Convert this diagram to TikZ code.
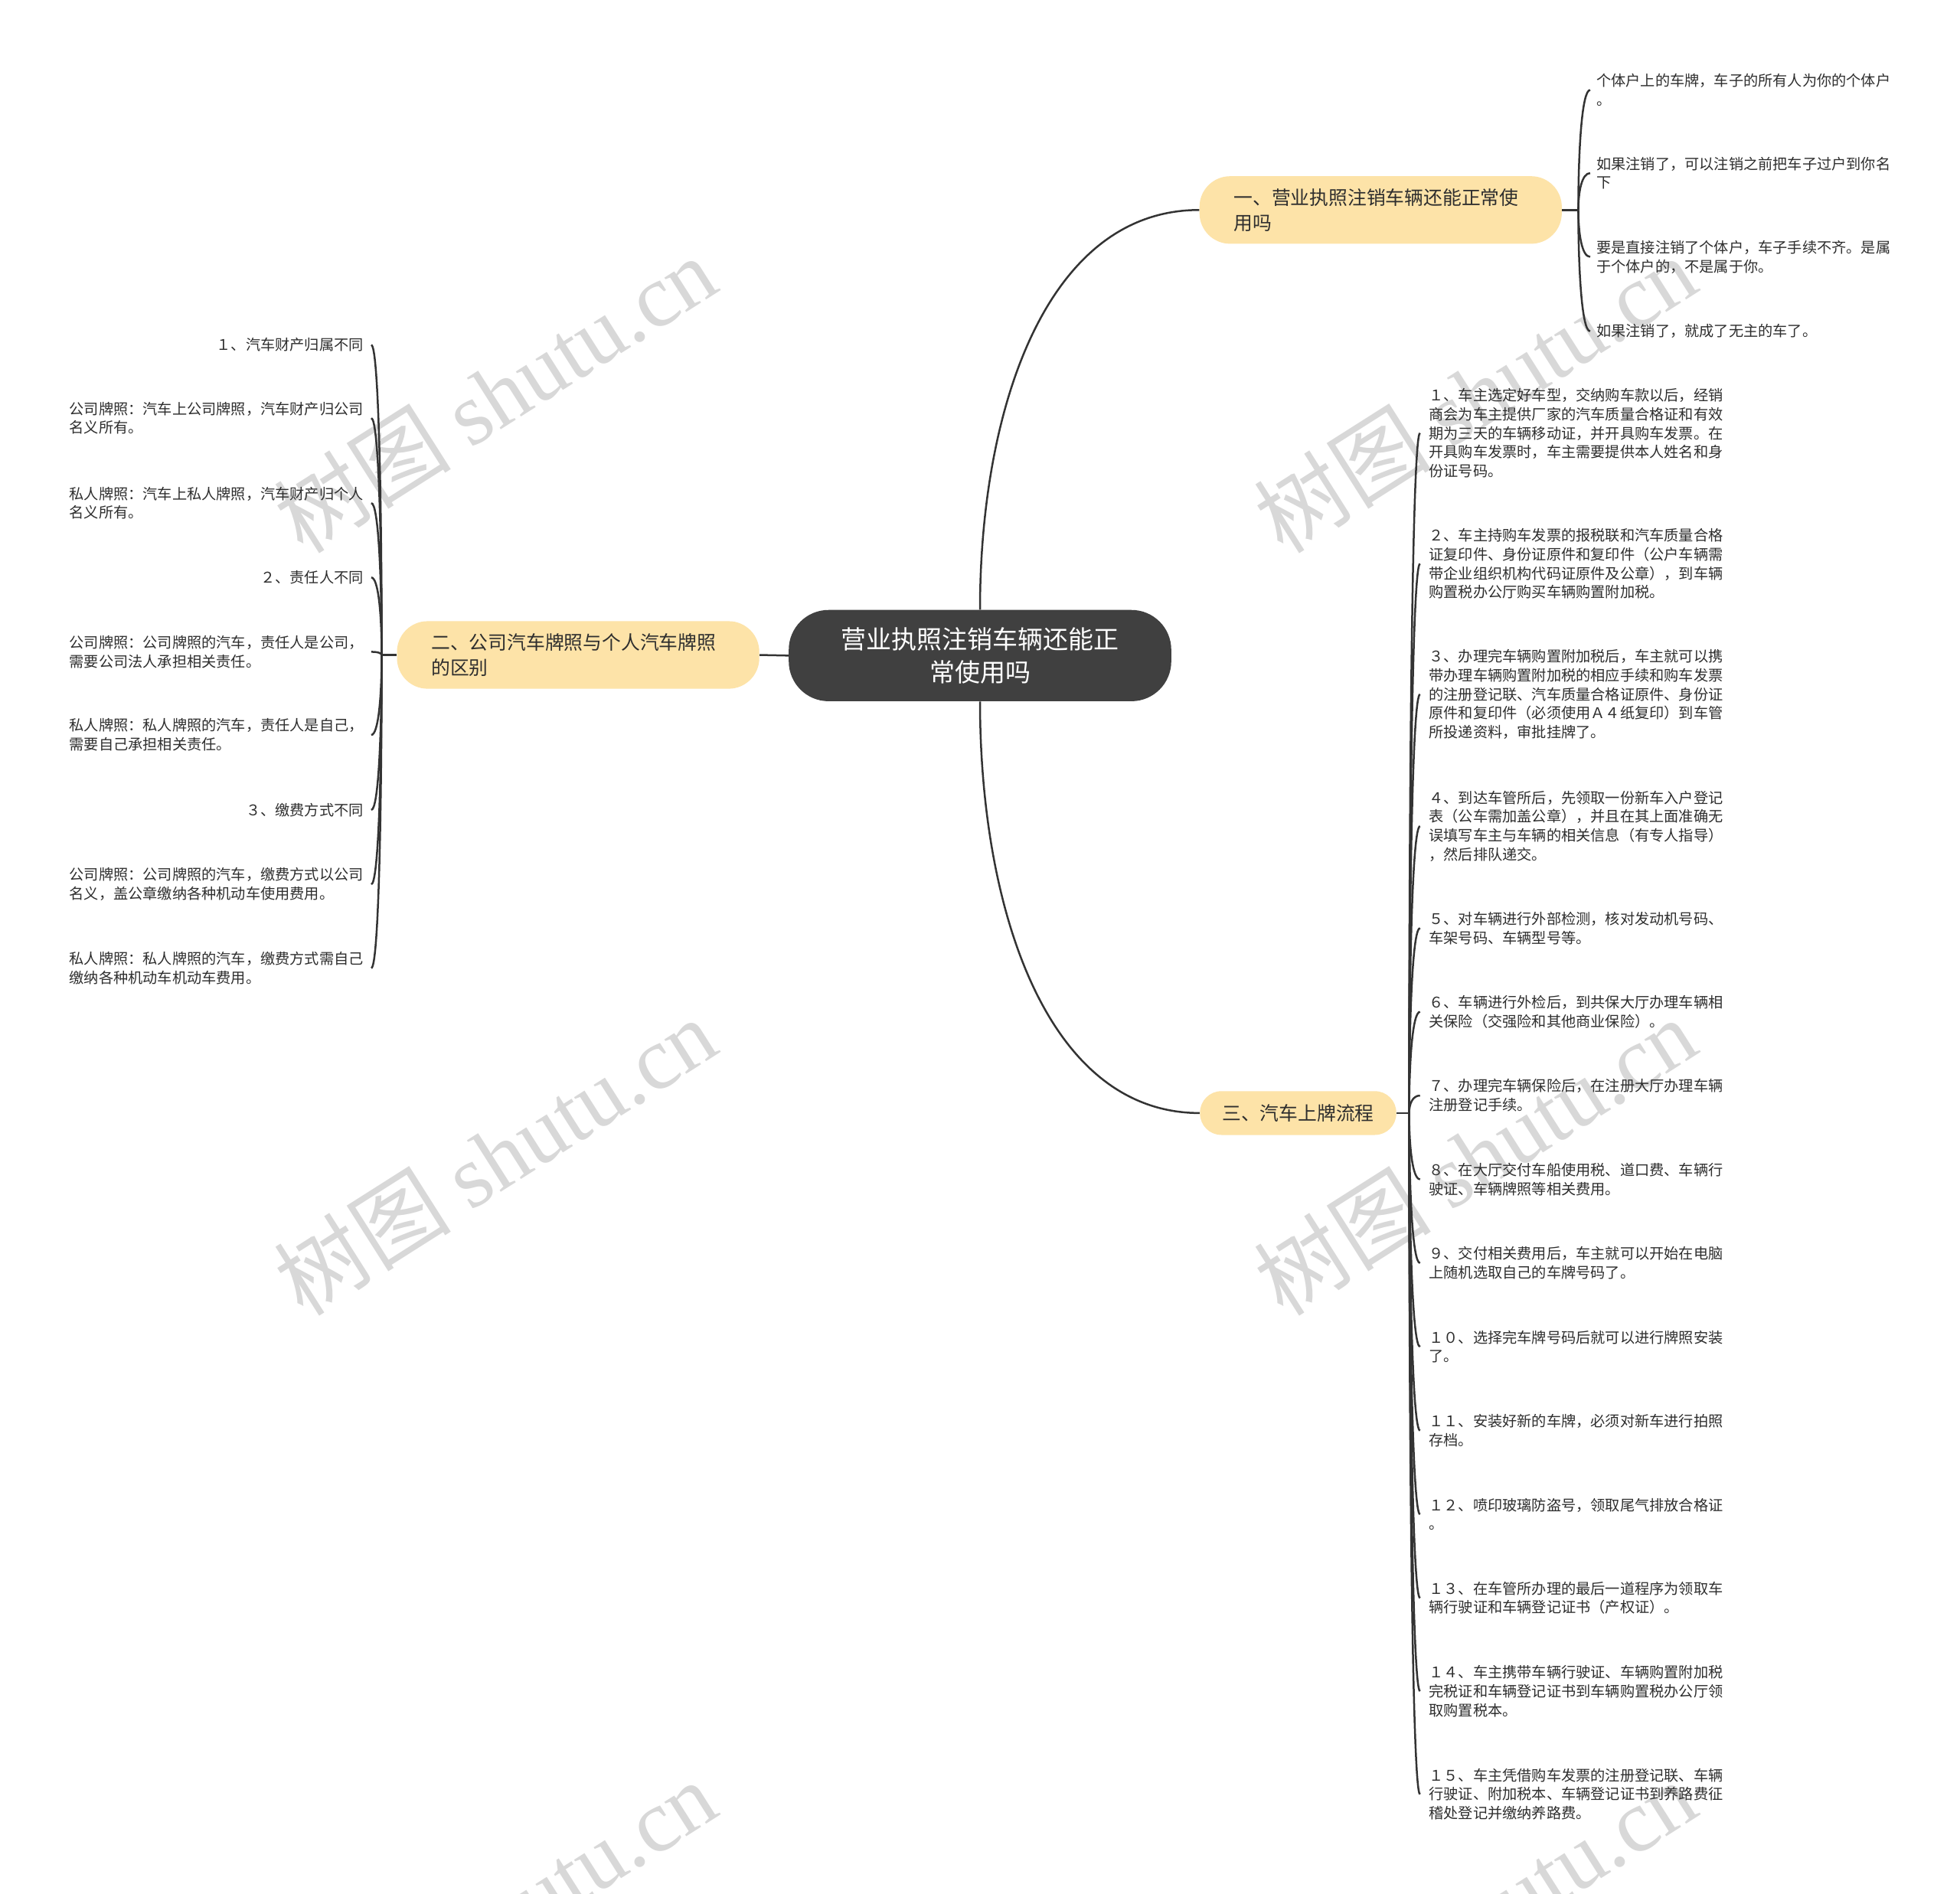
\documentclass[tikz,border=0pt]{standalone}
\usepackage{fontspec}
\setmainfont{Noto Sans CJK SC}
\newfontfamily\wmserif{Liberation Serif}
\newfontfamily\wmcjk{Noto Sans CJK SC}
\usetikzlibrary{calc}
\definecolor{rootgray}{HTML}{404040}
\definecolor{branchyellow}{HTML}{FDE3A8}
\definecolor{linegray}{HTML}{333333}
\definecolor{textdark}{HTML}{2E2E2E}
\definecolor{wmgray}{HTML}{D8D8D8}
\tikzset{
  rootbox/.style={fill=rootgray, rounded corners=26pt, text=white, minimum width=249.8pt, minimum height=59.6pt, align=center, inner sep=0pt, font=\fontsize{16.5pt}{21.2pt}\selectfont},
  branchwide/.style={fill=branchyellow, rounded corners=20pt, text=textdark, minimum width=235.9pt, minimum height=44.1pt, text width=191.8pt, align=left, inner xsep=22.4pt, inner ysep=0pt, font=\fontsize{12.4pt}{16.3pt}\selectfont},
  branchsmall/.style={fill=branchyellow, rounded corners=14pt, text=textdark, minimum width=128.2pt, minimum height=28.6pt, align=center, inner sep=0pt, font=\fontsize{12.4pt}{16.3pt}\selectfont},
  leafR/.style={anchor=west, align=left, inner sep=0pt, text=textdark, font=\fontsize{9.6pt}{12.4pt}\selectfont},
  leafL/.style={anchor=east, align=left, inner sep=0pt, text=textdark, font=\fontsize{9.6pt}{12.4pt}\selectfont},
  conn/.style={draw=linegray, line width=1.25pt},
  wmark/.style={text=wmgray, rotate=32.4, inner sep=0pt, font=\fontsize{58pt}{58pt}\selectfont}
}
\newcommand{\mmcurve}[2]{\draw[conn] let \p1=(#1), \p2=(#2) in (\p1) .. controls (\x1,{\y1+0.5*(\y2-\y1)}) and ({\x1+0.3*(\x2-\x1)},\y2) .. (\p2);}
\begin{document}
\begin{tikzpicture}[x=0.81633pt,y=-0.81633pt]
\useasboundingbox (0,0) rectangle (1568,1515);
\fill[white] (0,0) rectangle (1568,1515);
% watermarks
\node[wmark] (wm1) at (396,315) {\wmcjk 树图 \wmserif shutu.cn};
\node[wmark] (wm2) at (396,925) {\wmcjk 树图 \wmserif shutu.cn};
\node[wmark] (wm3) at (396,1535) {\wmcjk 树图 \wmserif shutu.cn};
\node[wmark] (wm4) at (1180,315) {\wmcjk 树图 \wmserif shutu.cn};
\node[wmark] (wm5) at (1180,925) {\wmcjk 树图 \wmserif shutu.cn};
\node[wmark] (wm6) at (1180,1535) {\wmcjk 树图 \wmserif shutu.cn};

% root and branches
\node[rootbox] (root) at (784,524.5) {营业执照注销车辆还能正\\常使用吗};
\node[branchwide] (b1) at (1104.5,168) {一、营业执照注销车辆还能正常使\\用吗};
\node[branchwide] (b2) at (462.5,524) {二、公司汽车牌照与个人汽车牌照\\的区别};
\node[branchsmall] (b3) at (1038.5,890.5) {三、汽车上牌流程};

% leaves of branch 1
\node[leafR] (r1) at (1277,72) {个体户上的车牌，车子的所有人为你的个体户\\。};
\node[leafR] (r2) at (1277,138.5) {如果注销了，可以注销之前把车子过户到你名\\下};
\node[leafR] (r3) at (1277,205.5) {要是直接注销了个体户，车子手续不齐。是属\\于个体户的，不是属于你。};
\node[leafR] (r4) at (1277,265) {如果注销了，就成了无主的车了。};

% leaves of branch 2
\node[leafL] (l1) at (291,276) {１、汽车财产归属不同};
\node[leafL] (l2) at (291,334.5) {公司牌照：汽车上公司牌照，汽车财产归公司\\名义所有。};
\node[leafL] (l3) at (291,402.5) {私人牌照：汽车上私人牌照，汽车财产归个人\\名义所有。};
\node[leafL] (l4) at (291,462) {２、责任人不同};
\node[leafL] (l5) at (291,521.5) {公司牌照：公司牌照的汽车，责任人是公司，\\需要公司法人承担相关责任。};
\node[leafL] (l6) at (291,588) {私人牌照：私人牌照的汽车，责任人是自己，\\需要自己承担相关责任。};
\node[leafL] (l7) at (291,648) {３、缴费方式不同};
\node[leafL] (l8) at (291,707.5) {公司牌照：公司牌照的汽车，缴费方式以公司\\名义，盖公章缴纳各种机动车使用费用。};
\node[leafL] (l9) at (291,774.5) {私人牌照：私人牌照的汽车，缴费方式需自己\\缴纳各种机动车机动车费用。};

% leaves of branch 3
\node[leafR] (s1) at (1143,346.5) {１、车主选定好车型，交纳购车款以后，经销\\商会为车主提供厂家的汽车质量合格证和有效\\期为三天的车辆移动证，并开具购车发票。在\\开具购车发票时，车主需要提供本人姓名和身\\份证号码。};
\node[leafR] (s2) at (1143,451) {２、车主持购车发票的报税联和汽车质量合格\\证复印件、身份证原件和复印件（公户车辆需\\带企业组织机构代码证原件及公章），到车辆\\购置税办公厅购买车辆购置附加税。};
\node[leafR] (s3) at (1143,555.5) {３、办理完车辆购置附加税后，车主就可以携\\带办理车辆购置附加税的相应手续和购车发票\\的注册登记联、汽车质量合格证原件、身份证\\原件和复印件（必须使用Ａ４纸复印）到车管\\所投递资料，审批挂牌了。};
\node[leafR] (s4) at (1143,661) {４、到达车管所后，先领取一份新车入户登记\\表（公车需加盖公章），并且在其上面准确无\\误填写车主与车辆的相关信息（有专人指导）\\，然后排队递交。};
\node[leafR] (s5) at (1143,742.5) {５、对车辆进行外部检测，核对发动机号码、\\车架号码、车辆型号等。};
\node[leafR] (s6) at (1143,809.5) {６、车辆进行外检后，到共保大厅办理车辆相\\关保险（交强险和其他商业保险）。};
\node[leafR] (s7) at (1143,876.5) {７、办理完车辆保险后，在注册大厅办理车辆\\注册登记手续。};
\node[leafR] (s8) at (1143,943.5) {８、在大厅交付车船使用税、道口费、车辆行\\驶证、车辆牌照等相关费用。};
\node[leafR] (s9) at (1143,1010.5) {９、交付相关费用后，车主就可以开始在电脑\\上随机选取自己的车牌号码了。};
\node[leafR] (s10) at (1143,1077.5) {１０、选择完车牌号码后就可以进行牌照安装\\了。};
\node[leafR] (s11) at (1143,1144.5) {１１、安装好新的车牌，必须对新车进行拍照\\存档。};
\node[leafR] (s12) at (1143,1211.5) {１２、喷印玻璃防盗号，领取尾气排放合格证\\。};
\node[leafR] (s13) at (1143,1278.5) {１３、在车管所办理的最后一道程序为领取车\\辆行驶证和车辆登记证书（产权证）。};
\node[leafR] (s14) at (1143,1353) {１４、车主携带车辆行驶证、车辆购置附加税\\完税证和车辆登记证书到车辆购置税办公厅领\\取购置税本。};
\node[leafR] (s15) at (1143,1435.5) {１５、车主凭借购车发票的注册登记联、车辆\\行驶证、附加税本、车辆登记证书到养路费征\\稽处登记并缴纳养路费。};

% connectors root -> branches
\mmcurve{root.north}{b1.west}
\mmcurve{root.south}{b3.west}
\draw[conn] (root.west) -- (b2.east);

% spines
\coordinate (sp1) at ([xshift=10.6pt]b1.east);
\coordinate (sp2) at ([xshift=-9.8pt]b2.west);
\coordinate (sp3) at ([xshift=8.2pt]b3.east);
\draw[conn] (b1.east) -- (sp1);
\draw[conn] (b2.west) -- (sp2);
\draw[conn] (b3.east) -- (sp3);

\foreach \lf in {r1,r2,r3,r4}{
  \coordinate (h\lf) at ([xshift=-4pt]\lf.west);
  \mmcurve{sp1}{h\lf}
}
\foreach \lf in {l1,l2,l3,l4,l5,l6,l7,l8,l9}{
  \coordinate (h\lf) at ([xshift=4.9pt]\lf.east);
  \mmcurve{sp2}{h\lf}
}
\foreach \lf in {s1,s2,s3,s4,s5,s6,s7,s8,s9,s10,s11,s12,s13,s14,s15}{
  \coordinate (h\lf) at ([xshift=-5.7pt]\lf.west);
  \mmcurve{sp3}{h\lf}
}
\end{tikzpicture}
\end{document}
